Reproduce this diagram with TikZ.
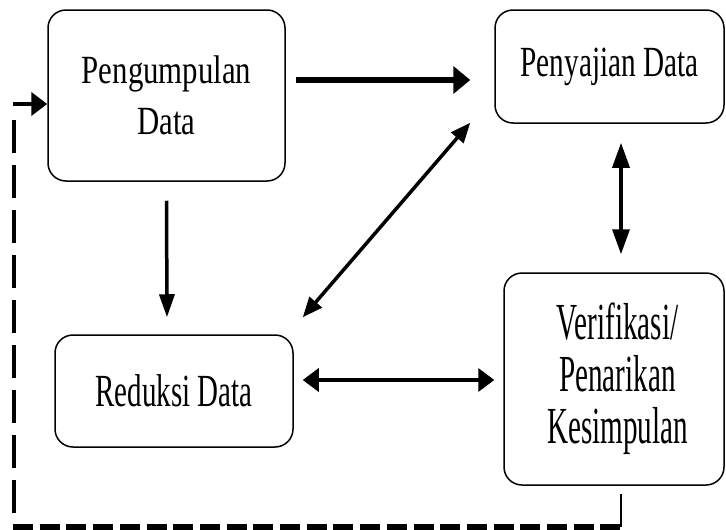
\documentclass[tikz,border=0pt]{standalone}
\usepackage{fontspec}
\setmainfont{Liberation Serif}
\usetikzlibrary{arrows.meta}
% condensed serif: stretch factor, size, line pitch
\newcommand\stagefont[3]{\addfontfeatures{FakeStretch=#1}\fontsize{#2}{#3}\selectfont}

\begin{document}
\begin{tikzpicture}[x=1pt,y=-1pt,
  stage/.style={draw, line width=1.5pt, rounded corners=18pt, inner sep=0pt, align=center},
  twoway/.style={line width=3.5pt, {Triangle[length=20pt,width=16pt]}-{Triangle[length=20pt,width=16pt]}},
  loopline/.style={line width=2.5pt},
  loopdashH/.style={line width=7pt, dash pattern=on 20pt off 6.7pt},
  loopdashV/.style={line width=4.5pt, dash pattern=on 33pt off 12pt}]
\useasboundingbox (0,0) rectangle (726,530);

% the four stages
\node[stage, minimum width=237pt, minimum height=171pt,
      font=\stagefont{0.77}{40}{51}] (kumpul) at (166.5,95.5) {Pengumpulan\\Data};
\node[stage, minimum width=229pt, minimum height=113pt,
      font=\stagefont{0.68}{43}{50}] (saji) at (609.5,66.5) {Penyajian Data};
\node[stage, minimum width=238pt, minimum height=112pt,
      font=\stagefont{0.63}{46}{50}] (reduksi) at (174,391) {Reduksi Data};
\node[stage, minimum width=220pt, minimum height=212pt,
      font=\stagefont{0.56}{52}{52}] (verif) at (614,379)
      {\hspace*{7pt}Verifikasi/\\\hspace*{7pt}Penarikan\\\hspace*{7pt}Kesimpulan};

% connectors between stages
\draw[line width=6pt, -{Triangle[length=17pt,width=27pt]}]
  ([xshift=10pt,yshift=15.5pt]kumpul.east) -- ([xshift=-24pt,yshift=-13.5pt]saji.west);
\draw[line width=3.5pt, -{Triangle[length=23pt,width=15pt]}]
  ([yshift=-19pt]kumpul.south) -- ([xshift=-7pt,yshift=17pt]reduksi.north);
\draw[twoway]
  ([xshift=-24pt,yshift=1pt]saji.south west) -- ([xshift=9pt,yshift=17pt]reduksi.north east);
\draw[line width=3.5pt, {Triangle[length=25pt,width=17pt]}-{Triangle[length=25pt,width=17pt]}]
  ([xshift=11.5pt,yshift=-19pt]saji.south) -- ([xshift=7pt,yshift=18pt]verif.north);
\draw[line width=3.5pt, {Triangle[length=16pt,width=23pt]}-{Triangle[length=16pt,width=23pt]}]
  ([xshift=9pt,yshift=11pt]reduksi.east) -- ([xshift=-9pt,yshift=-1pt]verif.west);

% feedback loop back to data collection
\coordinate (lpA) at (621,527);
\coordinate (lpB) at (13,527);
\coordinate (lpC) at (14,513);
\coordinate (lpD) at (14,115);
\coordinate (lpE) at (13,104);
\draw[loopline] ([xshift=7pt,yshift=-8pt]verif.south) -- (lpA);
\draw[loopdashH] (lpB) -- (lpA);
\draw[loopdashV] (lpC) -- (lpD);
\draw[line width=4.5pt, -{Triangle[length=16pt,width=23pt]}] (lpE) -- ([yshift=-8.5pt]kumpul.west);
\end{tikzpicture}
\end{document}
